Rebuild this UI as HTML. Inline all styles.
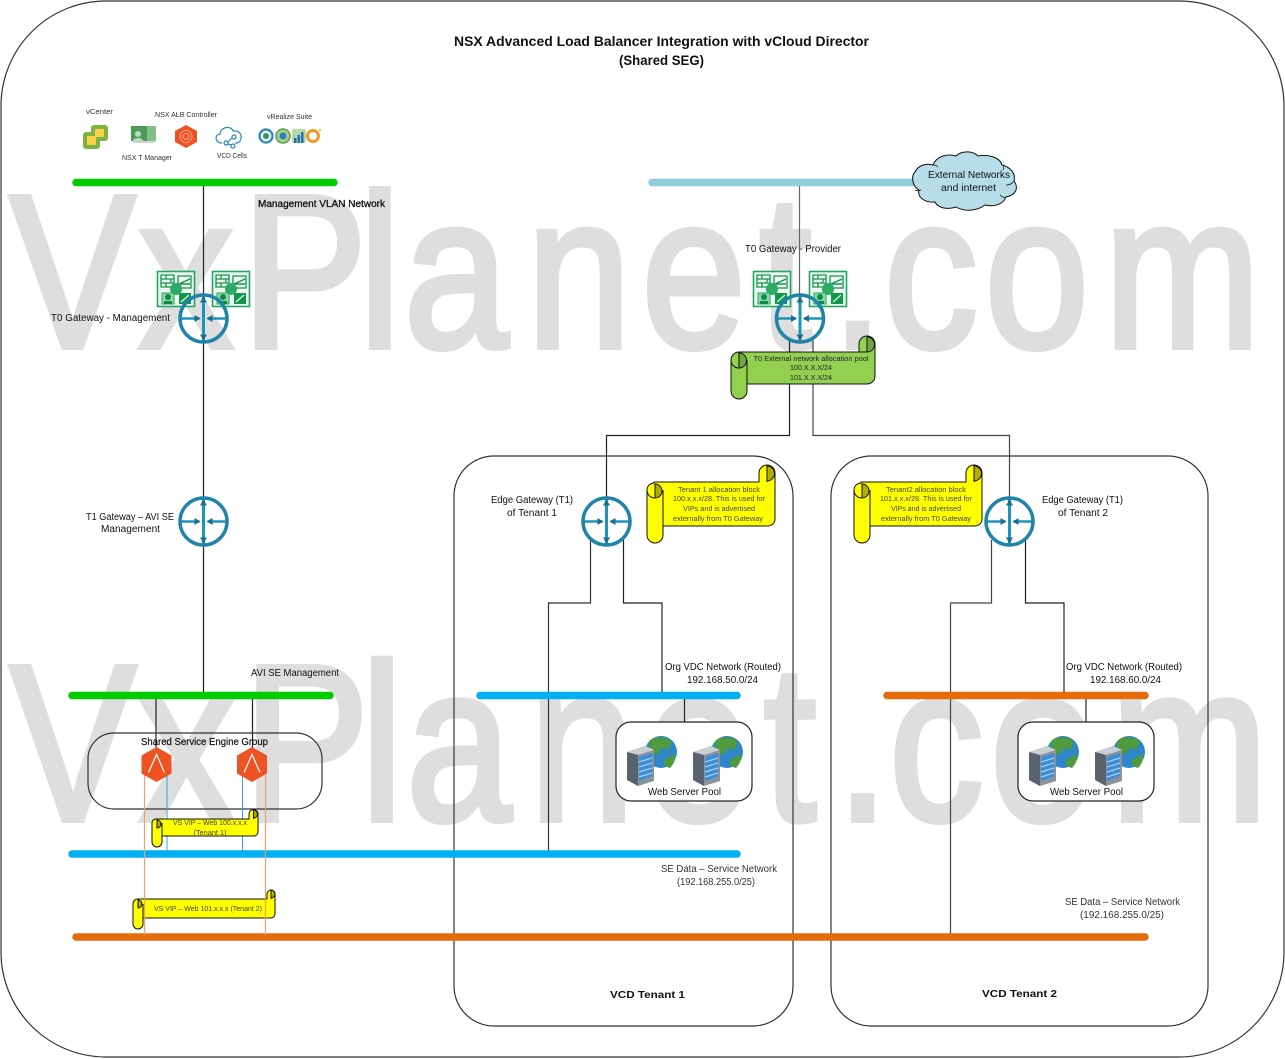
<!DOCTYPE html>
<html><head><meta charset="utf-8"><style>
html,body{margin:0;padding:0;background:#fff}
svg{display:block}
text{font-family:"Liberation Sans",sans-serif;fill:#111}
.wm{fill:#dedede;stroke:#dedede;stroke-width:6px;font-size:218px}
.s{font-size:7px;fill:#333}
.n{font-size:10px}
.y{font-size:7px;fill:#444;text-anchor:middle}
.b{font-weight:bold}
</style></head><body>
<svg width="1285" height="1059" viewBox="0 0 1285 1059" xmlns="http://www.w3.org/2000/svg">
<defs>
<g id="rt">
<circle cx="0" cy="0" r="23.500" fill="none" stroke="#1f84a8" stroke-width="3.500"/>
<path d="M0-22V22" stroke="#1f94bb" stroke-width="3"/>
<path d="M-22 0H-4M4 0H22" stroke="#1f94bb" stroke-width="2.500"/>
<path d="M-3.500-16L0-22L3.500-16ZM-3.500 16L0 22L3.500 16ZM-9-3.500L-3 0L-9 3.500ZM9-3.500L3 0L9 3.500Z" fill="#1a6f90"/>
</g>
<g id="nsx">
<rect x="0.500" y="0.500" width="37" height="35" fill="#eef8f1" stroke="#1fa860" stroke-width="1.600"/>
<path d="M4 4h13v12H4zM4 8h13M4 12h13M9 4v4M14 8v4M9 12v4" fill="none" stroke="#12964e" stroke-width="1.300"/>
<path d="M21 5h13v12H21z" fill="none" stroke="#12964e" stroke-width="1.300"/>
<path d="M22 13L33 8M22 13H33" stroke="#12964e" stroke-width="1.500"/>
<circle cx="19" cy="18" r="6" fill="#2cab66"/>
<path d="M5 22h12v11H5z" fill="#8fd6ac" stroke="#1fa860"/>
<circle cx="11" cy="26" r="3" fill="#0f8a45"/><path d="M7 33v-3h8v3z" fill="#0f8a45"/>
<path d="M22 22h12v11H22z" fill="#12964e"/>
<path d="M24 31L32 24" stroke="#d8f2e2" stroke-width="1.300"/>
</g>
<g id="srv">
<circle cx="35" cy="16" r="16" fill="#2f86c8"/>
<path d="M24 4c6-4 16-4 22 2l-4 8-7-2-3 7-10-4zM38 24l11-6c1 6-2 11-5 14l-6-2z" fill="#4f9a3c"/>
<path d="M1 16L19 10L28 14V45L12 50L1 44Z" fill="#8a929a"/>
<path d="M1 16L19 10L28 14L12 19Z" fill="#c8ced4"/>
<path d="M1 16L12 19V50L1 44Z" fill="#59636e"/>
<path d="M13 21L26 17V40L13 45Z" fill="#3d8ed6"/>
<path d="M13 26L26 22M13 31L26 27M13 36L26 32M13 41L26 37" stroke="#bcdcf2" stroke-width="1"/>
</g>
<g id="se">
<path d="M0-17.500L15-9V9L0 17.500L-15 9V-9Z" fill="#ee5323"/>
<path d="M-8 8L0-10L8 8" fill="none" stroke="#fff" stroke-width="1.200"/>
</g>
</defs>

<rect width="1285" height="1059" fill="#fff"/>
<g transform="scale(0.86,1)"><text class="wm" y="347" x="11.6 161.6 281.4 417.4 469.8 612.5 746 883 967 1028 1145 1284">VxPlanet.com</text></g>
<g transform="matrix(0.865,0,0,1.02,0,466)"><text class="wm" y="347" x="11.6 161.6 281.4 417.4 469.8 612.5 746 883 967 1028 1145 1284">VxPlanet.com</text></g>

<rect x="1" y="1" width="1283" height="1056" rx="105" ry="105" fill="none" stroke="#333" stroke-width="1.200"/>
<rect x="454" y="456" width="339" height="570" rx="40" fill="none" stroke="#333" stroke-width="1.200"/>
<rect x="831" y="456" width="377" height="570" rx="40" fill="none" stroke="#333" stroke-width="1.200"/>

<!-- connector lines -->
<g fill="none" stroke="#222" stroke-width="1.200">
<path d="M203.500 182V693"/>
<path d="M799.500 182V320" stroke="#666"/>
<path d="M789.500 338V435.500H606.500V520"/>
<path d="M813 338V435.500H1009.500V520" stroke="#444"/>
<path d="M590.500 540V603H548.500V853" stroke="#333"/>
<path d="M623.500 540V603H662V692"/>
<path d="M684.500 696V722"/>
<path d="M991.500 540V603H950.500V936" stroke="#444"/>
<path d="M1025.500 540V603H1064V692"/>
<path d="M1086 696V722"/>
<path d="M156 693V765M252.500 693V765"/>
</g>

<!-- network bars -->
<g stroke-linecap="round" stroke-width="7.500" fill="none">
<path d="M76 182.500H334" stroke="#00cc00"/>
<path d="M652 182.500H925" stroke="#92cddc"/>
<path d="M72 695.500H330" stroke="#00cc00"/>
<path d="M480 695.500H737" stroke="#00b0f0"/>
<path d="M887 695.500H1145" stroke="#e46c0a"/>
<path d="M72 854H737" stroke="#00b0f0"/>
<path d="M76 937H1145" stroke="#e46c0a"/>
</g>

<!-- cloud -->
<path d="M915 172c3-7 12-9 18-7c3-8 13-12 23-9c5-5 16-6 22 0c9-2 22 1 24 9c8 2 14 8 12 16c5 7 2 14-8 16c-3 8-13 10-21 8c-8 6-20 7-29 2c-9 3-18 1-21-5c-9 1-18-4-16-12c-7-4-8-14-4-18z" fill="#b7dde8" stroke="#111" stroke-width="1"/>
<path d="M1003 165c1 2 1 3 0 5M1014 181c-2 3-5 4-8 4M1006 197c-2 1-4 0-6-2M915 190c2 1 4 1 6 0M933 165c2 0 4 1 5 2" fill="none" stroke="#111" stroke-width="0.800"/>
<text class="n" x="928" y="178" textLength="82" lengthAdjust="spacingAndGlyphs">External Networks</text>
<text class="n" x="941" y="191" textLength="55" lengthAdjust="spacingAndGlyphs">and internet</text>

<!-- top icons -->
<rect x="91" y="125" width="17" height="16" rx="3" fill="#7cb342"/>
<rect x="83" y="132" width="17" height="17" rx="3" fill="#7cb342"/>
<rect x="87" y="136" width="9" height="9" rx="1" fill="#fbd24a"/>
<rect x="95" y="129" width="9" height="8" rx="1" fill="#fbd24a"/>
<rect x="131" y="126" width="25" height="15" fill="#4f9a5a"/><rect x="147" y="126" width="9" height="15" fill="#7fc08a"/><circle cx="138" cy="134" r="3" fill="#b8dcc0"/><path d="M133 141c0-4 10-4 10 0z" fill="#b8dcc0"/><rect x="133" y="141" width="22" height="2" fill="#c9d8cc"/>
<path d="M186 125l11 6v11l-11 6l-11-6v-11z" fill="#ee5323"/><circle cx="186" cy="136.500" r="6" fill="none" stroke="#f7a78a"/><circle cx="186" cy="136.500" r="3" fill="none" stroke="#f7a78a"/>
<g fill="none" stroke="#2a86b8" stroke-width="1.200"><path d="M222 143c-7 0-8-8-2-9c0-7 11-9 13-3c7-1 10 5 7 10c-1 2-3 2-5 2"/><circle cx="226" cy="143" r="2"/><circle cx="234" cy="137" r="2"/><circle cx="233" cy="146" r="2"/><path d="M228 142l4-4M228 144l3 1"/></g>
<circle cx="266" cy="136" r="6.500" fill="#dff0f6" stroke="#2a86b8" stroke-width="2.200"/><circle cx="266" cy="136" r="3" fill="#3f8f5f"/>
<circle cx="283" cy="136" r="7" fill="#a7d08c" stroke="#5fa04a" stroke-width="1.500"/><circle cx="283" cy="136" r="3.500" fill="#1f84c8"/>
<rect x="292" y="129" width="14" height="14" rx="2" fill="#b9d8a8"/><path d="M294 143v-5h2.500v5zM297.500 143v-8h2.500v8zM301 143v-11h2.500v11z" fill="#1f6fb8"/>
<circle cx="313" cy="136" r="5.500" fill="none" stroke="#f09a24" stroke-width="3"/><circle cx="320" cy="130" r="1" fill="#f09a24"/>
<text class="s" x="86" y="114" textLength="27" lengthAdjust="spacingAndGlyphs">vCenter</text>
<text class="s" x="155" y="117" textLength="62" lengthAdjust="spacingAndGlyphs">NSX ALB Controller</text>
<text class="s" x="267" y="119" textLength="45" lengthAdjust="spacingAndGlyphs">vRealize Suite</text>
<text class="s" x="122" y="160" textLength="50" lengthAdjust="spacingAndGlyphs">NSX T Manager</text>
<text class="s" x="217" y="158" textLength="30" lengthAdjust="spacingAndGlyphs">VCD Cells</text>

<text class="n" x="258" y="207" textLength="127" lengthAdjust="spacingAndGlyphs" stroke="#111" stroke-width="0.300">Management VLAN Network</text>

<!-- NSX icons + routers -->
<use href="#nsx" x="157" y="271"/><use href="#nsx" x="212" y="271"/>
<use href="#rt" x="203.500" y="318.500"/>
<use href="#nsx" x="753" y="271"/><use href="#nsx" x="809" y="271"/>
<use href="#rt" x="800" y="318.500"/>
<use href="#rt" x="203.500" y="521.500"/>
<use href="#rt" x="606.500" y="521.500"/>
<use href="#rt" x="1009.500" y="521.500"/>

<text class="n" x="51" y="321" textLength="119" lengthAdjust="spacingAndGlyphs">T0 Gateway - Management</text>
<text class="n" x="745" y="252" textLength="96" lengthAdjust="spacingAndGlyphs">T0 Gateway - Provider</text>
<text class="n" x="86" y="520" textLength="88" lengthAdjust="spacingAndGlyphs">T1 Gateway – AVI SE</text>
<text class="n" x="101" y="532" textLength="59" lengthAdjust="spacingAndGlyphs">Management</text>
<text class="n" x="491" y="503" textLength="82" lengthAdjust="spacingAndGlyphs">Edge Gateway (T1)</text>
<text class="n" x="507" y="516" textLength="50" lengthAdjust="spacingAndGlyphs">of Tenant 1</text>
<text class="n" x="1042" y="503" textLength="81" lengthAdjust="spacingAndGlyphs">Edge Gateway (T1)</text>
<text class="n" x="1058" y="516" textLength="50" lengthAdjust="spacingAndGlyphs">of Tenant 2</text>

<!-- green scroll -->
<g stroke="#111" stroke-width="1">
<path d="M739 352H859V344a8 8 0 0 1 16 0V376a8 8 0 0 1-8 8H747V391a8 8 0 0 1-16 0V360a8 8 0 0 1 8-8Z" fill="#92d050"/>
<path d="M867 337a7.500 7.500 0 0 1 0 15Z" fill="#74a640"/>
<path d="M739 353a7.500 7.500 0 0 1 0 15Z" fill="#74a640"/>
<path d="M867 352H859M739 368c-4 0-8-3-8-8M867 344V352M747 360V384" fill="none"/>
</g>
<text class="y" style="fill:#223" x="811" y="361" textLength="115" lengthAdjust="spacingAndGlyphs">T0 External network allocation pool</text>
<text class="y" style="fill:#223" x="811" y="370" textLength="42" lengthAdjust="spacingAndGlyphs">100.X.X.X/24</text>
<text class="y" style="fill:#223" x="811" y="380" textLength="42" lengthAdjust="spacingAndGlyphs">101.X.X.X/24</text>

<!-- tenant 1 scroll -->
<g stroke="#111" stroke-width="1">
<path d="M654 482H759V473a8 8 0 0 1 16 0V519a7 7 0 0 1-7 7H663V535a8 8 0 0 1-16 0V490a7 7 0 0 1 7-7Z" fill="#ffff00"/>
<path d="M767 466a7.500 7.500 0 0 1 0 15Z" fill="#b0b000"/>
<path d="M655 484a7 7 0 0 1 0 14Z" fill="#b0b000"/>
<path d="M767 474V482M655 498c-4 0-8-3-8-8M663 490V526" fill="none"/>
</g>
<text class="y" x="719" y="492" textLength="82" lengthAdjust="spacingAndGlyphs">Tenant 1 allocation block</text>
<text class="y" x="719" y="501" textLength="92" lengthAdjust="spacingAndGlyphs">100.x.x.x/28. This is used for</text>
<text class="y" x="719" y="511" textLength="72" lengthAdjust="spacingAndGlyphs">VIPs and is advertised</text>
<text class="y" x="718" y="521" textLength="90" lengthAdjust="spacingAndGlyphs">externally from T0 Gateway</text>

<!-- tenant 2 scroll -->
<g stroke="#111" stroke-width="1">
<path d="M861 482H966V473a8 8 0 0 1 16 0V519a7 7 0 0 1-7 7H870V535a8 8 0 0 1-16 0V490a7 7 0 0 1 7-7Z" fill="#ffff00"/>
<path d="M974 466a7.500 7.500 0 0 1 0 15Z" fill="#b0b000"/>
<path d="M862 484a7 7 0 0 1 0 14Z" fill="#b0b000"/>
<path d="M974 474V482M862 498c-4 0-8-3-8-8M870 490V526" fill="none"/>
</g>
<text class="y" x="926" y="492" textLength="80" lengthAdjust="spacingAndGlyphs">Tenant2 allocation block</text>
<text class="y" x="926" y="501" textLength="92" lengthAdjust="spacingAndGlyphs">101.x.x.x/28. This is used for</text>
<text class="y" x="926" y="511" textLength="70" lengthAdjust="spacingAndGlyphs">VIPs and is advertised</text>
<text class="y" x="926" y="521" textLength="90" lengthAdjust="spacingAndGlyphs">externally from T0 Gateway</text>

<!-- labels -->
<text class="n" x="251" y="676" textLength="88" lengthAdjust="spacingAndGlyphs">AVI SE Management</text>
<text class="n" x="665" y="670" textLength="116" lengthAdjust="spacingAndGlyphs">Org VDC Network (Routed)</text>
<text class="n" x="687" y="683" textLength="71" lengthAdjust="spacingAndGlyphs">192.168.50.0/24</text>
<text class="n" x="1066" y="670" textLength="116" lengthAdjust="spacingAndGlyphs">Org VDC Network (Routed)</text>
<text class="n" x="1090" y="683" textLength="71" lengthAdjust="spacingAndGlyphs">192.168.60.0/24</text>

<!-- web pools -->
<rect x="616" y="722" width="136" height="79" rx="15" fill="#fff" stroke="#222" stroke-width="1.200"/>
<use href="#srv" x="626" y="736"/><use href="#srv" x="692" y="736"/>
<text class="n" x="648" y="795" textLength="73" lengthAdjust="spacingAndGlyphs">Web Server Pool</text>
<rect x="1018" y="722" width="136" height="79" rx="15" fill="#fff" stroke="#222" stroke-width="1.200"/>
<use href="#srv" x="1028" y="736"/><use href="#srv" x="1094" y="736"/>
<text class="n" x="1050" y="795" textLength="73" lengthAdjust="spacingAndGlyphs">Web Server Pool</text>

<!-- SE group -->
<rect x="88" y="733" width="234" height="76" rx="26" fill="none" stroke="#333" stroke-width="1.200"/>
<text class="n" x="141" y="745" textLength="127" lengthAdjust="spacingAndGlyphs" stroke="#111" stroke-width="0.200">Shared Service Engine Group</text>
<path d="M167 775V851M242.500 775V851" fill="none" stroke="#2fa8d8" stroke-width="1"/>

<!-- VIP scrolls -->
<g stroke="#111" stroke-width="1">
<path d="M157 819H249V814a4.500 4.500 0 0 1 9 0V832a4 4 0 0 1-4 4H162V842a5 5 0 0 1-10 0V823a4 4 0 0 1 5-4Z" fill="#ffff00"/>
<path d="M253.500 810a4 4 0 0 1 0 8Z" fill="#b0b000"/>
<path d="M157 820a4 4 0 0 1 0 8Z" fill="#b0b000"/>
<path d="M253.500 814V819M162 823V836" fill="none"/>
<path d="M139 899H267V894a4 4 0 0 1 8 0V914a4 4 0 0 1-4 4H143V924a5 5 0 0 1-10 0V904a5 5 0 0 1 6-5Z" fill="#ffff00"/>
<path d="M271 890a4 4 0 0 1 0 8Z" fill="#b0b000"/>
<path d="M138 900a4 4 0 0 1 0 8Z" fill="#b0b000"/>
<path d="M271 894V899M143 904V918" fill="none"/>
</g>
<text class="y" x="210" y="825" textLength="74" lengthAdjust="spacingAndGlyphs">VS VIP – Web 100.x.x.x</text>
<text class="y" x="210" y="835" textLength="33" lengthAdjust="spacingAndGlyphs">(Tenant 1)</text>
<text class="y" x="208" y="911" textLength="108" lengthAdjust="spacingAndGlyphs">VS VIP – Web 101.x.x.x (Tenant 2)</text>

<path d="M144.500 775V935M265.500 775V935" fill="none" stroke="#f0a070" stroke-width="1.200"/>
<use href="#se" x="156.500" y="764.500"/>
<use href="#se" x="252" y="764.500"/>

<!-- bottom text -->
<text class="n" x="661" y="872" textLength="116" lengthAdjust="spacingAndGlyphs" style="fill:#333">SE Data – Service Network</text>
<text class="n" x="677" y="885" textLength="78" lengthAdjust="spacingAndGlyphs" style="fill:#333">(192.168.255.0/25)</text>
<text class="n" x="1065" y="905" textLength="115" lengthAdjust="spacingAndGlyphs" style="fill:#333">SE Data – Service Network</text>
<text class="n" x="1080" y="918" textLength="84" lengthAdjust="spacingAndGlyphs" style="fill:#333">(192.168.255.0/25)</text>
<text class="n b" x="610" y="998" textLength="75" lengthAdjust="spacingAndGlyphs">VCD Tenant 1</text>
<text class="n b" x="982" y="997" textLength="75" lengthAdjust="spacingAndGlyphs">VCD Tenant 2</text>

<!-- title -->
<text class="b" style="font-size:14px" x="454" y="46" textLength="415" lengthAdjust="spacingAndGlyphs">NSX Advanced Load Balancer Integration with  vCloud Director</text>
<text class="b" style="font-size:14px" x="619" y="65" textLength="85" lengthAdjust="spacingAndGlyphs">(Shared SEG)</text>
</svg>
</body></html>
